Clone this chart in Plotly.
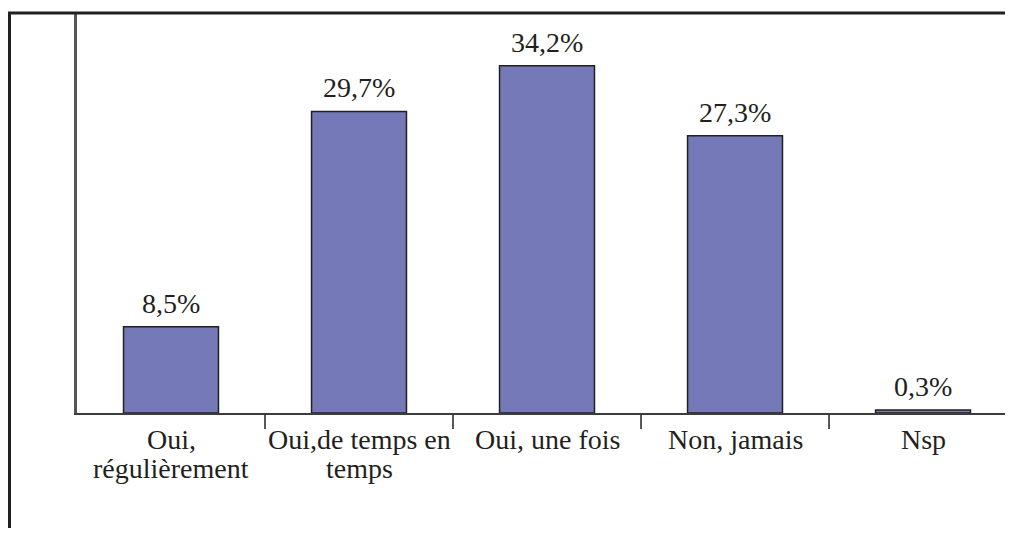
import plotly.graph_objects as go

categories = ["Oui,<br>régulièrement", "Oui,de temps en<br>temps", "Oui, une fois", "Non, jamais", "Nsp"]
values = [8.5, 29.7, 34.2, 27.3, 0.3]
value_labels = ["8,5%", "29,7%", "34,2%", "27,3%", "0,3%"]

FONT = "Liberation Serif, Times New Roman, serif"
DARK = "#231f20"
FS = 28

fig = go.Figure()
fig.add_trace(go.Bar(
    x=list(range(len(categories))),
    y=values,
    width=0.505,
    marker=dict(color="#7579b8", line=dict(color=DARK, width=1.5)),
    hoverinfo="skip",
))

annotations = []
for i, (v, t) in enumerate(zip(values, value_labels)):
    annotations.append(dict(x=i, y=v, xref="x", yref="y", text=t, showarrow=False,
                            yanchor="bottom", yshift=6,
                            font=dict(family=FONT, size=FS, color=DARK)))
for i, c in enumerate(categories):
    for k, line in enumerate(c.split("<br>")):
        annotations.append(dict(x=i, y=0, xref="x", yref="paper", text=line, showarrow=False,
                                yanchor="top", yshift=-9 - 29 * k,
                                font=dict(family=FONT, size=FS, color=DARK)))

fig.update_layout(
    width=997, height=520,
    margin=dict(l=69, r=0, t=5, b=115),
    paper_bgcolor="white", plot_bgcolor="white",
    showlegend=False,
    font=dict(family=FONT, size=FS, color=DARK),
    xaxis=dict(
        range=[-0.5, 4.436],
        showgrid=False, zeroline=False,
        showline=True, linecolor="#3c3c3c", linewidth=2,
        ticks="", showticklabels=False,
    ),
    yaxis=dict(
        range=[0, 39.4],
        showgrid=False, zeroline=False,
        showline=True, linecolor="#555555", linewidth=2.5,
        showticklabels=False, ticks="",
    ),
    annotations=annotations,
    shapes=[
        dict(type="rect", xref="paper", yref="paper",
             x0=(1.5 - 69) / 928, x1=1.05, y0=-0.5, y1=1.0,
             line=dict(color=DARK, width=3), fillcolor="rgba(0,0,0,0)", layer="above"),
    ] + [
        dict(type="line", xref="x", yref="paper", x0=i + 0.5, x1=i + 0.5,
             y0=-0.005, y1=-0.04, line=dict(color=DARK, width=1.5))
        for i in range(len(categories) - 1)
    ],
)

fig.write_html("out.html")
